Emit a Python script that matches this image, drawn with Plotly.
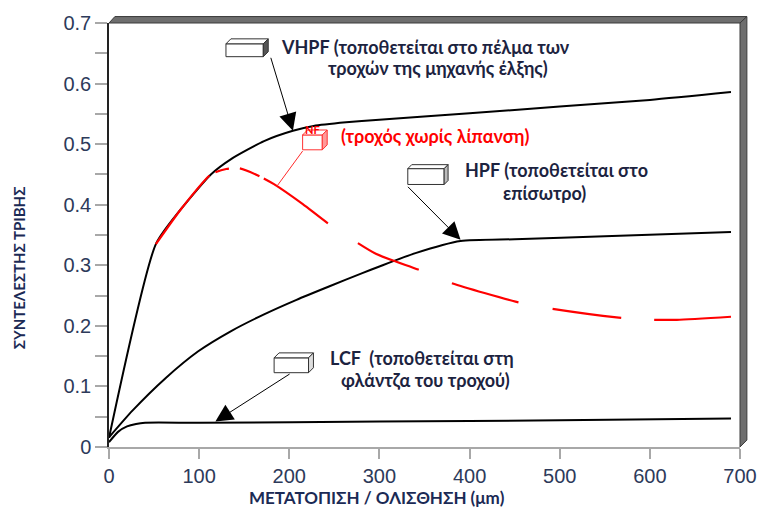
import plotly.graph_objects as go

# ---------------- data ----------------
vhpf_x = [0, 52, 80, 113, 135, 172, 204, 227, 263, 296, 400, 500, 600, 690]
vhpf_y = [0.015, 0.335, 0.393, 0.450, 0.475, 0.505, 0.522, 0.530, 0.536, 0.540, 0.551, 0.562, 0.573, 0.586]

nf_x = [52, 80, 113, 130, 145, 167, 183, 215, 244, 296, 343, 379, 451, 488, 563, 599, 630, 690]
nf_y = [0.335, 0.393, 0.450, 0.459, 0.460, 0.447, 0.434, 0.401, 0.368, 0.319, 0.293, 0.271,
        0.240, 0.229, 0.214, 0.210, 0.210, 0.215]

hpf_x = [0, 26, 63, 99, 135, 172, 208, 244, 281, 300, 340, 390, 450, 550, 690]
hpf_y = [0.016, 0.060, 0.114, 0.158, 0.191, 0.219, 0.243, 0.265, 0.287, 0.298, 0.320, 0.340,
         0.343, 0.348, 0.355]

lcf_x = [0, 10, 20, 30, 40, 100, 300, 500, 690]
lcf_y = [0.008, 0.025, 0.034, 0.038, 0.040, 0.040, 0.042, 0.044, 0.047]

x_ticks = [0, 100, 200, 300, 400, 500, 600, 700]
y_ticks = [0, 0.1, 0.2, 0.3, 0.4, 0.5, 0.6, 0.7]
y_tick_text = ["0", "0.1", "0.2", "0.3", "0.4", "0.5", "0.6", "0.7"]

x_title = "ΜΕΤΑΤΟΠΙΣΗ / ΟΛΙΣΘΗΣΗ (μm)"
y_title = "ΣΥΝΤΕΛΕΣΤΗΣ ΤΡΙΒΗΣ"

# ---------------- layout constants ----------------
W, H = 769, 511
L, R, T, B = 109, 18, 19, 64
PW, PH = W - L - R, H - T - B
TXT = "#1c2340"
FONT = "Lato"
FS = 18


def px2paper(px, py):
    return (px - L) / PW, (H - B - py) / PH


fig = go.Figure()

for xs, ys in ((vhpf_x, vhpf_y), (hpf_x, hpf_y), (lcf_x, lcf_y)):
    fig.add_trace(go.Scatter(x=xs, y=ys, mode="lines",
                             line=dict(color="black", width=2, shape="spline", smoothing=0.6)))
fig.add_trace(go.Scatter(x=nf_x, y=nf_y, mode="lines",
                         line=dict(color="#ff0000", width=2.2, shape="spline", smoothing=0.6,
                                   dash="87px,7px,14px,11px,21px,5px,78px,36px,67px,36px,69px,35px,69px,33px,90px")))

shapes = []


def ppath(pts):
    s = ""
    for i, (px, py) in enumerate(pts):
        x, y = px2paper(px, py)
        s += ("M" if i == 0 else " L") + f" {x:.5f},{y:.5f}"
    return s + " Z"


# 3D frame: top bar and right bar
top = [(L, T), (L + 6, T - 6.5), (L + PW + 7, T - 6.5), (L + PW, T)]
right = [(L + PW, T), (L + PW + 7, T - 6.5), (L + PW + 7, H - B - 7), (L + PW, H - B)]
for pts in (top, right):
    shapes.append(dict(type="path", xref="paper", yref="paper", path=ppath(pts),
                       fillcolor="#6e6e6e", line=dict(color="#3a3a3a", width=1), layer="above"))


# small 3D boxes
def box(px, py, w, h, d, line, side, top_fill="white"):
    front = [(px, py), (px + w, py), (px + w, py + h), (px, py + h)]
    topf = [(px, py), (px + d, py - d), (px + w + d, py - d), (px + w, py)]
    sidef = [(px + w, py), (px + w + d, py - d), (px + w + d, py + h - d), (px + w, py + h)]
    for pts, fc in ((front, "white"), (topf, top_fill), (sidef, side)):
        shapes.append(dict(type="path", xref="paper", yref="paper", path=ppath(pts),
                           fillcolor=fc, line=dict(color=line, width=1), layer="above"))


box(228, 40, 38, 13, 5, "#333333", "#555555")
box(306, 132, 20, 15, 5, "#ff3333", "#ff9a9a")
box(413, 166, 37, 16, 4, "#333333", "#bbbbbb")
box(277, 357, 35, 15, 5, "#333333", "#dddddd")

annotations = []


def arrow(x, y, ax, ay, color="black", head=True):
    annotations.append(dict(x=x, y=y, ax=ax, ay=ay, xref="x", yref="y", axref="x", ayref="y",
                            text="", showarrow=True, arrowcolor=color,
                            arrowhead=2 if head else 0, arrowsize=3.5 if head else 1,
                            arrowwidth=1))


arrow(204, 0.522, 179, 0.645)
arrow(390, 0.342, 330, 0.432)
arrow(118, 0.042, 202, 0.122)
arrow(186, 0.430, 216, 0.491, color="#ff2a2a", head=False)


def text(x, y, s, color=TXT, size=FS, anchor="left"):
    annotations.append(dict(x=x, y=y, xref="x", yref="y", text=s, showarrow=False,
                            xanchor=anchor, yanchor="middle",
                            font=dict(family=FONT, size=size, color=color)))


text(188.6, 0.661, "<b>VHPF (τοποθετείται στο πέλμα των</b>")
text(241.0, 0.625, "<b>τροχών της μηχανής έλξης)</b>")
text(225.7, 0.524, "<b>NF</b>", color="#ff0000", size=11, anchor="center")
text(255.1, 0.514, "<b>(τροχός χωρίς λίπανση)</b>", color="#ff0000")
text(392.5, 0.458, "<b>HPF (τοποθετείται στο</b>")
text(435.1, 0.420, "<b>επίσωτρο)</b>")
text(243.1, 0.147, "<b>LCF  (τοποθετείται στη</b>")
text(255.1, 0.110, "<b>φλάντζα του τροχού)</b>")

# axis titles
xt, yt = px2paper(382, 498)
annotations.append(dict(x=xt, y=yt, xref="paper", yref="paper", text=f"<b>{x_title}</b>",
                        showarrow=False, xanchor="center", yanchor="middle",
                        font=dict(family=FONT, size=17, color="#1b2a55")))
xt, yt = px2paper(17, 266)
annotations.append(dict(x=xt, y=yt, xref="paper", yref="paper", text=f"<b>{y_title}</b>",
                        showarrow=False, xanchor="center", yanchor="middle", textangle=-90,
                        font=dict(family=FONT, size=15, color="#1b2a55")))

fig.update_layout(
    width=W, height=H, margin=dict(l=L, r=R, t=T, b=B, pad=0),
    paper_bgcolor="white", plot_bgcolor="white", showlegend=False,
    shapes=shapes, annotations=annotations,
    xaxis=dict(range=[0, 700], tickvals=x_ticks, showgrid=False, zeroline=False,
               showline=True, linecolor="#a8a8a8", linewidth=2,
               ticks="outside", ticklen=10, tickwidth=1.5, tickcolor="#a8a8a8",
               tickfont=dict(family="Liberation Sans", size=20, color="#2d3a5a")),
    yaxis=dict(range=[0, 0.7], tickvals=y_ticks, ticktext=y_tick_text, showgrid=False,
               zeroline=False, showline=True, linecolor="#222222", linewidth=1.5,
               ticks="outside", ticklen=12, tickwidth=1.5, tickcolor="#a8a8a8",
               minor=dict(dtick=0.05, ticks="outside", ticklen=12, tickwidth=1.5, tickcolor="#a8a8a8"),
               tickfont=dict(family="Liberation Sans", size=20, color="#2d3a5a")),
)

fig.write_html("out.html", config={"displayModeBar": False},
               post_script="document.body.style.margin='0';")
